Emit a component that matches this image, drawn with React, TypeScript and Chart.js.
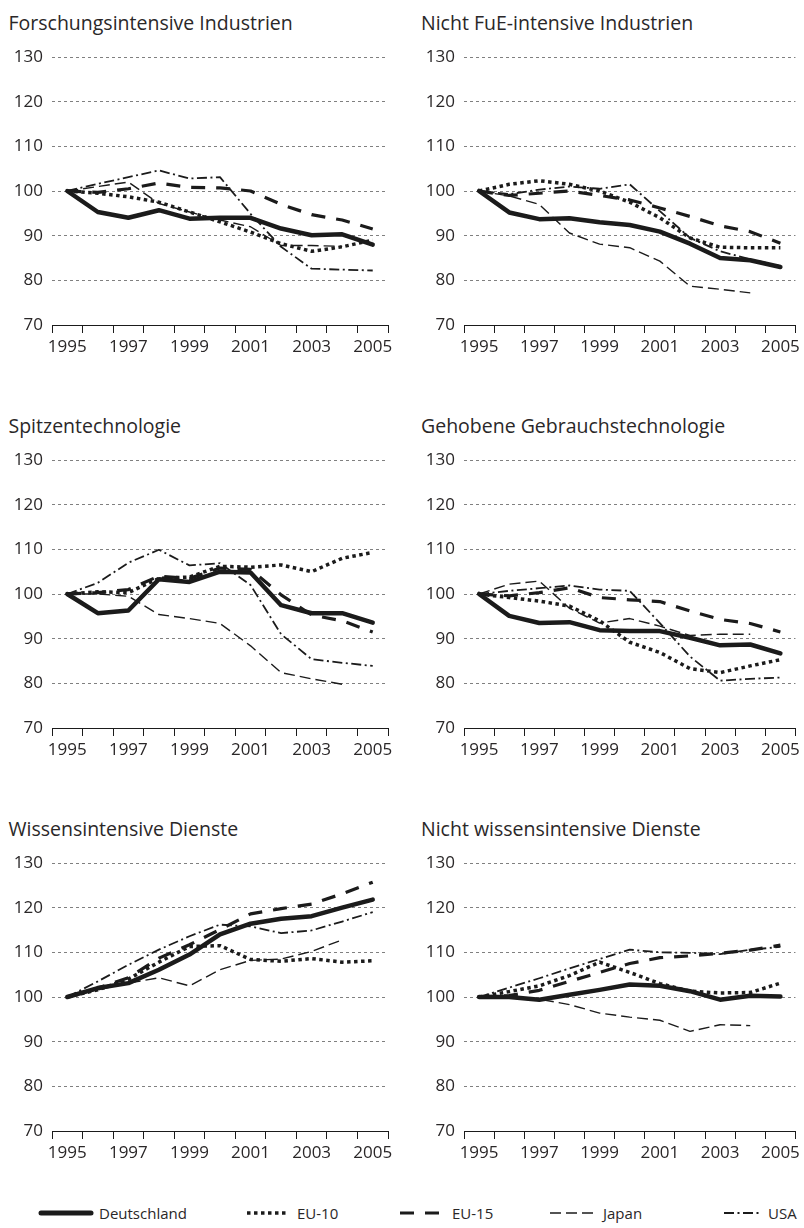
import React, { useEffect, useRef } from "react";
import { Chart, registerables } from "chart.js";

Chart.register(...registerables);

// ---------- data ----------
const years = ["1995", "1996", "1997", "1998", "1999", "2000", "2001", "2002", "2003", "2004", "2005"];
const seriesNames = ["Deutschland", "EU-10", "EU-15", "Japan", "USA"];
const yMin = 70;
const yMax = 130;
const yStep = 10;

const panelTitles = [
  "Forschungsintensive Industrien",
  "Nicht FuE-intensive Industrien",
  "Spitzentechnologie",
  "Gehobene Gebrauchstechnologie",
  "Wissensintensive Dienste",
  "Nicht wissensintensive Dienste",
];

// Forschungsintensive Industrien
const fiDeutschland = [100, 95.3, 94.0, 95.7, 93.8, 94.0, 94.0, 91.6, 90.1, 90.3, 88.0];
const fiEU10 = [100, 99.5, 98.7, 97.5, 95.3, 93.1, 90.8, 88.2, 86.5, 87.5, 89.0];
const fiEU15 = [100, 99.7, 100.5, 101.8, 100.8, 100.7, 100.0, 97.0, 94.7, 93.5, 91.5];
const fiJapan = [100, 101.0, 102.0, 97.2, 95.3, 93.5, 92.0, 87.8, 87.8, 87.6, null];
const fiUSA = [100, 101.6, 103.1, 104.6, 102.8, 103.1, 94.9, 87.5, 82.6, 82.4, 82.2];

// Nicht FuE-intensive Industrien
const nfDeutschland = [100, 95.2, 93.7, 93.9, 93.0, 92.4, 90.9, 88.2, 85.0, 84.5, 83.0];
const nfEU10 = [100, 101.5, 102.3, 101.5, 100.0, 97.5, 94.0, 89.5, 87.4, 87.3, 87.3];
const nfEU15 = [100, 99.0, 99.5, 100.0, 99.0, 98.0, 96.2, 94.3, 92.2, 90.9, 88.3];
const nfJapan = [100, 98.9, 97.0, 90.6, 88.1, 87.3, 84.3, 78.7, 78.0, 77.2, null];
const nfUSA = [100, 99.3, 100.3, 101.0, 100.5, 101.5, 95.5, 89.5, 86.5, 84.7, 83.2];

// Spitzentechnologie
const stDeutschland = [100, 95.7, 96.3, 103.3, 102.7, 105.0, 104.8, 97.5, 95.7, 95.7, 93.6];
const stEU10 = [100, 100.5, 100.3, 103.5, 103.8, 106.2, 106.0, 106.5, 105.0, 108.0, 109.3];
const stEU15 = [100, 100.3, 101.0, 104.0, 103.5, 105.8, 105.5, 99.8, 95.3, 94.0, 91.5];
const stJapan = [100, 100.0, 99.5, 95.4, 94.5, 93.4, 88.4, 82.4, 81.0, 79.8, null];
const stUSA = [100, 102.5, 107.0, 109.9, 106.4, 106.9, 102.0, 91.0, 85.4, 84.6, 83.9];

// Gehobene Gebrauchstechnologie
const ggDeutschland = [100, 95.1, 93.5, 93.7, 91.9, 91.7, 91.7, 90.2, 88.5, 88.7, 86.7];
const ggEU10 = [100, 99.2, 98.4, 97.3, 94.0, 89.2, 86.9, 83.3, 82.4, 83.9, 85.3];
const ggEU15 = [100, 99.6, 100.3, 101.4, 99.2, 98.7, 98.3, 96.2, 94.3, 93.4, 91.5];
const ggJapan = [100, 102.2, 102.9, 96.8, 93.5, 94.5, 92.8, 90.7, 91.0, 91.0, null];
const ggUSA = [100, 100.7, 101.3, 101.9, 101.0, 100.7, 93.5, 86.0, 80.6, 81.0, 81.3];

// Wissensintensive Dienste
const wdDeutschland = [100, 102.0, 103.1, 106.1, 109.5, 114.0, 116.4, 117.5, 118.1, 120.0, 121.8];
const wdEU10 = [100, 101.6, 104.0, 107.8, 111.3, 111.5, 108.4, 108.0, 108.6, 107.8, 108.1];
const wdEU15 = [100, 102.0, 104.3, 108.7, 111.7, 115.1, 118.6, 119.8, 120.8, 123.1, 125.7];
const wdJapan = [100, 101.6, 103.1, 104.3, 102.5, 106.1, 108.2, 108.5, 110.2, 112.8, null];
const wdUSA = [100, 103.5, 107.2, 110.6, 113.6, 116.2, 115.8, 114.3, 114.9, 116.9, 119.0];

// Nicht wissensintensive Dienste
const ndDeutschland = [100, 100.0, 99.4, 100.5, 101.6, 102.8, 102.5, 101.3, 99.4, 100.3, 100.1];
const ndEU10 = [100, 101.2, 102.5, 104.8, 107.8, 105.5, 103.0, 101.3, 100.9, 101.0, 103.1];
const ndEU15 = [100, 100.3, 101.5, 103.5, 105.5, 107.5, 108.8, 109.2, 109.8, 110.5, 111.6];
const ndJapan = [100, 100.0, 99.5, 98.3, 96.4, 95.5, 94.8, 92.3, 93.8, 93.6, null];
const ndUSA = [100, 102.1, 104.2, 106.4, 108.5, 110.6, 110.0, 109.9, 109.6, 110.6, 111.2];

const panelSeries = [
  [fiDeutschland, fiEU10, fiEU15, fiJapan, fiUSA],
  [nfDeutschland, nfEU10, nfEU15, nfJapan, nfUSA],
  [stDeutschland, stEU10, stEU15, stJapan, stUSA],
  [ggDeutschland, ggEU10, ggEU15, ggJapan, ggUSA],
  [wdDeutschland, wdEU10, wdEU15, wdJapan, wdUSA],
  [ndDeutschland, ndEU10, ndEU15, ndJapan, ndUSA],
];

// ---------- styles ----------
const INK = "#1b1b1b";
const TEXT = "#2a2728";
const GRID = "#808080";
const FONT = "'Open Sans', 'Noto Sans', sans-serif";
const TITLE_SIZE = 19.5;
const TICK_SIZE = 17;

const lineStyles = [
  { width: 4.5, dash: [] as number[], cap: "round" as CanvasLineCap },
  { width: 3.5, dash: [3.5, 3.5], cap: "butt" as CanvasLineCap },
  { width: 3.2, dash: [14, 11], cap: "butt" as CanvasLineCap },
  { width: 1.4, dash: [11, 5], cap: "butt" as CanvasLineCap },
  { width: 1.8, dash: [10, 3.5, 2, 3.5], cap: "butt" as CanvasLineCap },
];

// geometry
const COL_W = 402;
const ROW_PITCH = 403;
const ROW0_TOP = 57; // pixel of the 130 gridline in row 0
const PLOT_H = 268;
const CANVAS_TOP_PAD = 20;
const XAXIS_H = 36;
const yAxisWidths = [52, 62];
const rightPads = [14, 4];

function Panel({ index }: { index: number }) {
  const ref = useRef<HTMLCanvasElement | null>(null);
  const col = index % 2;
  const row = Math.floor(index / 2);
  const plotTop = ROW0_TOP + row * ROW_PITCH;
  const canvasTop = plotTop - CANVAS_TOP_PAD;
  const canvasH = CANVAS_TOP_PAD + PLOT_H + XAXIS_H;

  useEffect(() => {
    if (!ref.current) return;
    const series = panelSeries[index];
    const chart = new Chart(ref.current, {
      type: "line",
      data: {
        labels: years,
        datasets: series.map((d, i) => ({
          label: seriesNames[i],
          data: d,
          borderColor: INK,
          backgroundColor: INK,
          borderWidth: lineStyles[i].width,
          borderDash: lineStyles[i].dash,
          borderCapStyle: lineStyles[i].cap,
          borderJoinStyle: "round" as CanvasLineJoin,
          pointRadius: 0,
          pointHoverRadius: 0,
          tension: 0,
          fill: false,
          spanGaps: false,
        })),
      },
      options: {
        responsive: false,
        maintainAspectRatio: false,
        animation: false,
        layout: { padding: { top: CANVAS_TOP_PAD, right: rightPads[col], bottom: 0, left: 0 } },
        plugins: { legend: { display: false }, tooltip: { enabled: false }, title: { display: false } },
        scales: {
          x: {
            type: "category",
            offset: true,
            grid: {
              offset: true,
              drawOnChartArea: false,
              drawTicks: true,
              tickLength: 8,
              color: INK,
              lineWidth: 1,
            },
            border: { display: true, color: INK, width: 1 },
            ticks: {
              autoSkip: false,
              maxRotation: 0,
              minRotation: 0,
              padding: 4,
              color: TEXT,
              font: { family: FONT, size: TICK_SIZE },
              callback: (_v: any, i: number) => (i % 2 === 0 ? years[i] : ""),
            },
            afterFit: (s: any) => {
              s.height = XAXIS_H;
            },
          },
          y: {
            min: yMin,
            max: yMax,
            grid: {
              drawTicks: false,
              lineWidth: 1,
              color: (ctx: any) => (ctx.tick && ctx.tick.value === yMin ? "rgba(0,0,0,0)" : GRID),
            },
            border: { display: false, dash: [3, 3] },
            ticks: {
              stepSize: yStep,
              padding: 9,
              color: TEXT,
              font: { family: FONT, size: TICK_SIZE },
            },
            afterFit: (s: any) => {
              s.width = yAxisWidths[col];
            },
          },
        },
      },
    } as any);
    return () => chart.destroy();
  }, [index, col]);

  return (
    <>
      <div
        style={{
          position: "absolute",
          left: col === 0 ? 8.5 : 421,
          top: plotTop - 43.6,
          fontFamily: FONT,
          fontSize: TITLE_SIZE,
          lineHeight: `${TITLE_SIZE}px`,
          color: TEXT,
          whiteSpace: "nowrap",
        }}
      >
        {panelTitles[index]}
      </div>
      <canvas
        ref={ref}
        width={COL_W}
        height={canvasH}
        style={{ position: "absolute", left: col * COL_W, top: canvasTop, width: COL_W, height: canvasH }}
      />
    </>
  );
}

const legendItems = [
  { x1: 41, x2: 91, tx: 99 },
  { x1: 247, x2: 286, tx: 297 },
  { x1: 400, x2: 443, tx: 452 },
  { x1: 550, x2: 594, tx: 603 },
  { x1: 724, x2: 762, tx: 768 },
];

function Legend() {
  return (
    <svg width={804} height={30} style={{ position: "absolute", left: 0, top: 1198 }}>
      {legendItems.map((it, i) => (
        <g key={i}>
          <line
            x1={it.x1}
            x2={it.x2}
            y1={15}
            y2={15}
            stroke={INK}
            strokeWidth={i === 0 ? 5 : lineStyles[i].width}
            strokeDasharray={lineStyles[i].dash.length ? lineStyles[i].dash.join(" ") : undefined}
            strokeLinecap={i === 0 ? "round" : "butt"}
          />
          <text x={it.tx} y={15} dominantBaseline="central" fontFamily={FONT} fontSize={15} fill={TEXT}>
            {seriesNames[i]}
          </text>
        </g>
      ))}
    </svg>
  );
}

export default function App() {
  return (
    <div
      style={{
        position: "absolute",
        left: 0,
        top: 0,
        width: 804,
        height: 1228,
        background: "#fff",
        overflow: "hidden",
      }}
    >
      {panelTitles.map((_, i) => (
        <Panel key={i} index={i} />
      ))}
      <Legend />
    </div>
  );
}
